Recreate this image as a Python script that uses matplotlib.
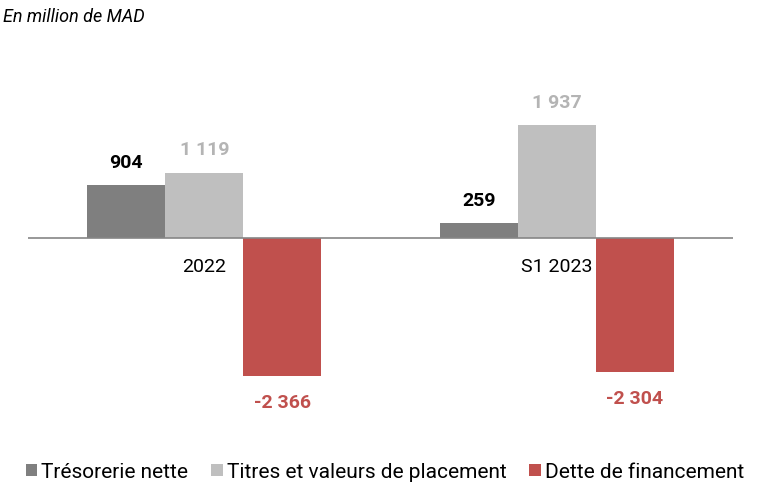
import numpy as np
import matplotlib
matplotlib.use("Agg")
import matplotlib.pyplot as plt

plt.rcParams["font.family"] = ["Roboto", "DejaVu Sans"]

periods = ["2022", "S1 2023"]
series_names = ["Trésorerie nette", "Titres et valeurs de placement", "Dette de financement"]
tresorerie = [904, 259]
titres = [1119, 1937]
dette = [-2366, -2304]

colors = ["#7F7F7F", "#BFBFBF", "#C0504D"]
label_colors = ["#000000", "#B4B4B4", "#C0504D"]


def fmt(v):
    # thousands separated by a space, French style
    return f"{v:,}".replace(",", " ")


fig = plt.figure(figsize=(7.7, 4.9), dpi=100)
ax = fig.add_axes([0.0364, 0.158, 0.9156, 0.7126])

x = np.arange(len(periods))
width = 0.2216
offsets = [-width, 0, width]

for vals, off, col, lcol, name in zip([tresorerie, titres, dette], offsets,
                                       colors, label_colors, series_names):
    bars = ax.bar(x + off, vals, width, color=col, label=name)
    for b, v in zip(bars, vals):
        if v >= 0:
            y, va = v + 230, "bottom"
        else:
            y, va = v - 310, "top"
        ax.text(b.get_x() + b.get_width() / 2, y, fmt(v), ha="center", va=va,
                fontsize=14, fontweight="bold", color=lcol)

ax.set_xlim(-0.5, 1.5)
ax.set_ylim(-3000, 3000)
ax.axhline(0, color="#868686", lw=1.2)

# category names sit just under the zero line
for xi, p in zip(x, periods):
    ax.text(xi, -500, p, ha="center", va="center", fontsize=14, color="black")

ax.set_xticks([])
ax.set_yticks([])
for s in ax.spines.values():
    s.set_visible(False)

fig.text(3 / 770, 1 - 17 / 490, "En million de MAD", ha="left", va="center",
         fontsize=13, style="italic", color="black")

fig.legend(loc="center", bbox_to_anchor=(0.5, 1 - 472 / 490), ncol=3, frameon=False,
           fontsize=15, handlelength=0.55, handleheight=0.55, handletextpad=0.2,
           columnspacing=1.1)

fig.savefig("out.png", dpi=100)
